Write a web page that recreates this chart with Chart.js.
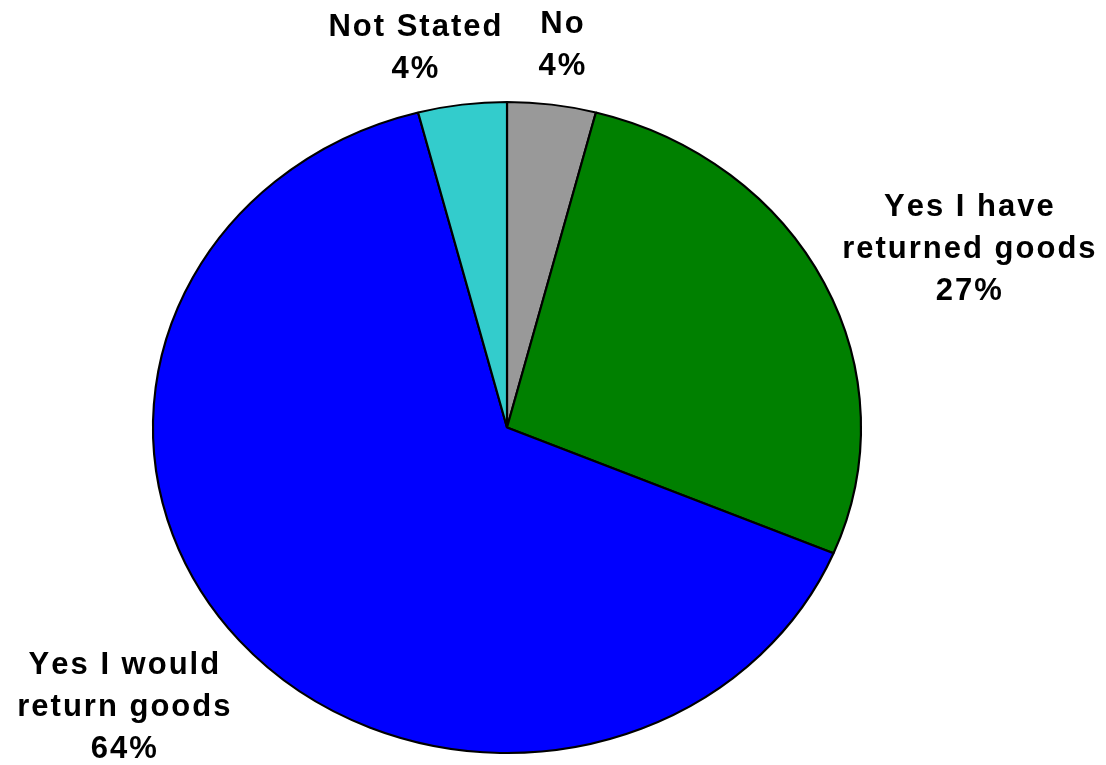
<!DOCTYPE html>
<html>
<head>
<meta charset="utf-8">
<title>Returned goods</title>
<script src="https://cdn.jsdelivr.net/npm/chart.js@4.4.0/dist/chart.umd.min.js"></script>
<style>
    html, body { margin: 0; padding: 0; background: #ffffff; }
    #wrap { width: 1106px; height: 765px; position: relative; }
</style>
</head>
<body>
<div id="wrap"><canvas id="pieChart"></canvas></div>
<script>
// Datos del gráfico
const categories = ['No', 'Yes I have\nreturned goods', 'Yes I would\nreturn goods', 'Not Stated'];
const shares = [4, 27, 64, 4];
const sliceColors = ['#999999', '#008000', '#0000ff', '#33cccc'];

// Desplazamiento de cada etiqueta respecto al centro (en radios)
const labelOffsets = [[0.169, -1.181], [1.419, -0.556], [-1.177, 0.853], [-0.283, -1.172]];
const stretchX = 1.0876; // la tarta es algo más ancha que alta

// Estira la tarta en horizontal sin tocar las etiquetas
const ellipsePlugin = {
    id: 'ellipse',
    beforeDatasetsDraw(chart) {
        const a = chart.chartArea;
        const cx = (a.left + a.right) / 2;
        const ctx = chart.ctx;
        ctx.save();
        ctx.translate(cx, 0);
        ctx.scale(stretchX, 1);
        ctx.translate(-cx, 0);
    },
    afterDatasetsDraw(chart) {
        chart.ctx.restore();
    }
};

// Etiquetas en negrita con espaciado entre letras
const labelPlugin = {
    id: 'sliceLabels',
    afterDraw(chart) {
        const ctx = chart.ctx;
        const arcs = chart.getDatasetMeta(0).data;
        const spacing = 2;
        const lineH = 42;
        const capH = 22.5;
        ctx.save();
        ctx.font = 'bold 31px "Liberation Sans", Arial, sans-serif';
        ctx.fillStyle = '#000000';
        ctx.textAlign = 'left';
        ctx.textBaseline = 'alphabetic';
        arcs.forEach((arc, i) => {
            const r = arc.outerRadius;
            const mx = arc.x + labelOffsets[i][0] * r;
            const my = arc.y + labelOffsets[i][1] * r;
            const lines = categories[i].split('\n').concat(shares[i] + '%');
            const total = (lines.length - 1) * lineH + capH;
            let y = my - total / 2 + capH;
            lines.forEach(line => {
                const chars = line.split('');
                const widths = chars.map(c => ctx.measureText(c).width);
                const w = widths.reduce((s, v) => s + v, 0) + spacing * (chars.length - 1);
                let x = mx - w / 2;
                chars.forEach((c, k) => {
                    ctx.fillText(c, x, y);
                    x += widths[k] + spacing;
                });
                y += lineH;
            });
        });
        ctx.restore();
    }
};

document.addEventListener('DOMContentLoaded', function() {
    const ctx = document.getElementById('pieChart').getContext('2d');
    new Chart(ctx, {
        type: 'pie',
        data: {
            labels: categories,
            datasets: [{
                data: shares,
                backgroundColor: sliceColors,
                borderColor: '#000000',
                borderWidth: 2
            }]
        },
        options: {
            responsive: true,
            maintainAspectRatio: false,
            animation: false,
            layout: {
                padding: { top: 101, bottom: 11, left: 150, right: 242 }
            },
            plugins: {
                legend: { display: false },
                tooltip: { enabled: false }
            }
        },
        plugins: [ellipsePlugin, labelPlugin]
    });
});
</script>
</body>
</html>
